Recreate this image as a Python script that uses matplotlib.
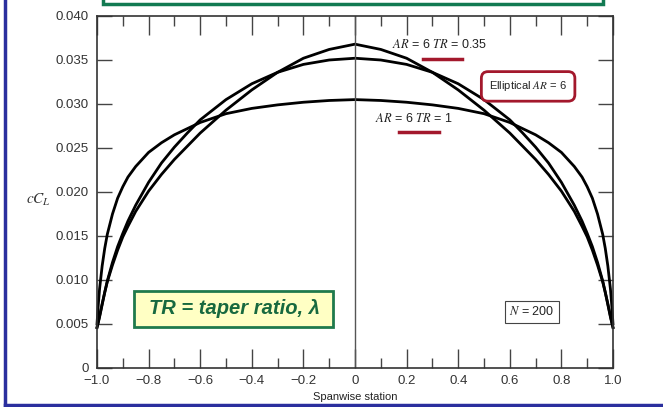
import numpy as np
import matplotlib.pyplot as plt
from matplotlib.patches import Rectangle

plt.rcParams['font.family'] = ['Liberation Sans', 'DejaVu Sans']
plt.rcParams['mathtext.fontset'] = 'stix'

# spanwise stations (half span, mirrored below) and cC_L
station = [0, 0.1, 0.2, 0.3, 0.4, 0.5, 0.6, 0.65, 0.7, 0.75, 0.8, 0.85, 0.88, 0.9, 0.92,
           0.94, 0.96, 0.97, 0.98, 0.99, 0.995, 1.0]
cl_elliptical = [0.0352, 0.0350, 0.0345, 0.0336, 0.0323, 0.0305, 0.0282, 0.0267, 0.0251, 0.0233,
                 0.0211, 0.0185, 0.0167, 0.0153, 0.0138, 0.0120, 0.0099, 0.0086, 0.0072, 0.0058,
                 0.0052, 0.0046]
cl_tr035 = [0.0368, 0.0362, 0.0352, 0.0336, 0.0316, 0.0293, 0.0267, 0.0252, 0.0237, 0.0220,
            0.0201, 0.0178, 0.0161, 0.0149, 0.0134, 0.0117, 0.0098, 0.0086, 0.0073, 0.0059,
            0.0052, 0.0046]
cl_tr1 = [0.0305, 0.0304, 0.0302, 0.0299, 0.0295, 0.0289, 0.0279, 0.0272, 0.0265, 0.0256,
          0.0245, 0.0229, 0.0217, 0.0206, 0.0193, 0.0175, 0.0152, 0.0136, 0.0116, 0.0090,
          0.0072, 0.0050]

xticks = [-1.0, -0.8, -0.6, -0.4, -0.2, 0, 0.2, 0.4, 0.6, 0.8, 1.0]
xtick_labels = ['\u22121.0', '\u22120.8', '\u22120.6', '\u22120.4', '\u22120.2', '0',
                '0.2', '0.4', '0.6', '0.8', '1.0']
yticks = [0, 0.005, 0.010, 0.015, 0.020, 0.025, 0.030, 0.035, 0.040]
ytick_labels = ['0', '0.005', '0.010', '0.015', '0.020', '0.025', '0.030', '0.035', '0.040']


def full_span(s, v):
    s = np.array(s)
    v = np.array(v)
    return np.concatenate([-s[::-1], s[1:]]), np.concatenate([v[::-1], v[1:]])


fig = plt.figure(figsize=(6.63, 4.07), dpi=100)
ax = fig.add_axes([97 / 663, 1 - 368 / 407, 516 / 663, 352 / 407])

for vals in [cl_elliptical, cl_tr035, cl_tr1]:
    xs, ys = full_span(station, vals)
    ax.plot(xs, ys, color='black', lw=2, clip_on=False, solid_joinstyle='round')

ax.axvline(0, color='#555555', lw=1)

ax.set_xlim(-1, 1)
ax.set_ylim(0, 0.04)
ax.set_xticks(xticks)
ax.set_xticklabels(xtick_labels)
ax.set_xticks(np.arange(-0.9, 1.0, 0.2), minor=True)
ax.set_yticks(yticks)
ax.set_yticklabels(ytick_labels)

ax.tick_params(axis='x', which='major', direction='in', length=14, width=1, top=True,
               color='#444444', labelcolor='#333333', labelsize=9.5, pad=5)
ax.tick_params(axis='x', which='minor', direction='in', length=7, width=1, top=True,
               color='#444444')
ax.tick_params(axis='y', which='major', direction='in', length=11, width=1, right=True,
               color='#444444', labelcolor='#333333', labelsize=9.5, pad=6)
for sp in ax.spines.values():
    sp.set_color('#333333')
    sp.set_linewidth(1.2)

red = '#a3182c'
# annotations
ax.text(0.143, 0.0368, r'$AR$ = 6 $TR$ = 0.35', fontsize=9, va='center', color='#222222')
ax.plot([0.264, 0.415], [0.0351, 0.0351], color=red, lw=2.5)
ax.text(0.078, 0.0284, r'$AR$ = 6 $TR$ = 1', fontsize=9, va='center', color='#222222')
ax.plot([0.171, 0.326], [0.0268, 0.0268], color=red, lw=2.5)
ax.text(0.671, 0.0320, r'Elliptical $AR$ = 6', fontsize=8, ha='center', va='center',
        color='#222222',
        bbox=dict(boxstyle='round,pad=0.7,rounding_size=0.6', fc='white', ec=red, lw=2))
ax.text(0.686, 0.0064, r'$N$ = 200', fontsize=9, ha='center', va='center', color='#222222',
        bbox=dict(boxstyle='square,pad=0.35', fc='white', ec='#444444', lw=0.8))

# taper ratio callout box
fig.patches.append(Rectangle((134 / 663, 1 - 327 / 407), 199 / 663, 36 / 407,
                             transform=fig.transFigure, fc='#ffffc4', ec='#1f7a4c', lw=2,
                             figure=fig, zorder=5))
fig.text(234 / 663, 1 - 309 / 407, 'TR = taper ratio, \u03bb', fontsize=14.5, ha='center',
         va='center', fontweight='bold', fontstyle='italic', color='#17693f', zorder=6)

fig.text(38 / 663, 1 - 200 / 407, r'$cC_L$', fontsize=11, ha='center', va='center',
         color='#333333')
fig.text(355 / 663, 1 - 397 / 407, 'Spanwise station', fontsize=8, ha='center', va='center',
         color='#222222')

# decoration from the slide: top green box and blue frame
fig.patches.append(Rectangle((103 / 663, 1 - 4 / 407), 500 / 663, 0.1, transform=fig.transFigure,
                             fc='white', ec='#127a52', lw=2.5, figure=fig))
fig.add_artist(plt.Line2D([5 / 663, 5 / 663], [1 - 405 / 407, 1.0], color='#2b2f9e', lw=2.5,
                          transform=fig.transFigure))
fig.add_artist(plt.Line2D([5 / 663, 1.0], [1 - 405 / 407, 1 - 405 / 407], color='#2b2f9e',
                          lw=2.5, transform=fig.transFigure))

fig.savefig('out.png', dpi=100, facecolor='white')
